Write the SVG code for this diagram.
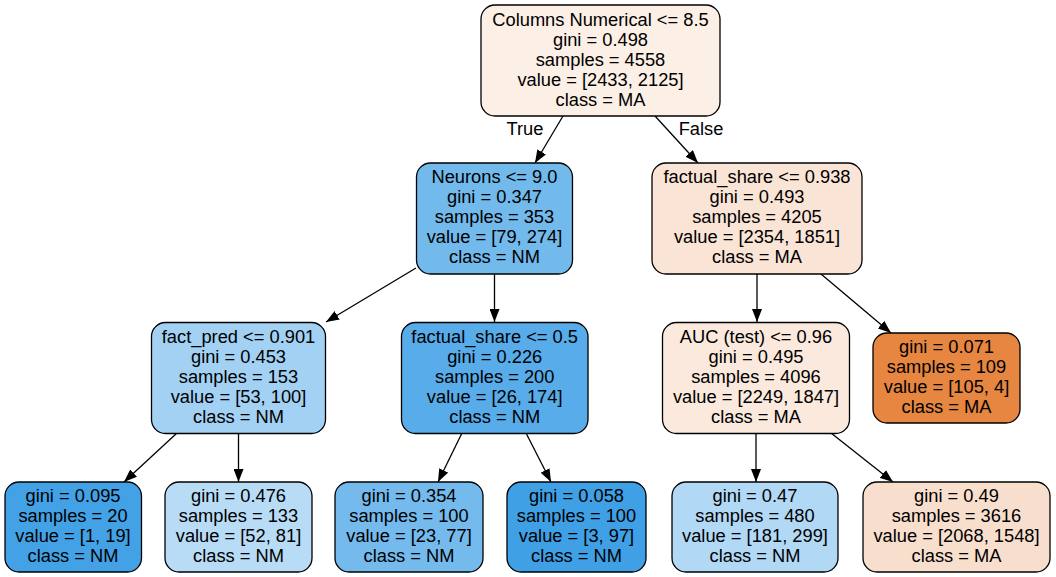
<svg xmlns="http://www.w3.org/2000/svg" width="1056" height="577" viewBox="0 0 1056 577">
<defs>
<marker id="arr" markerUnits="userSpaceOnUse" markerWidth="14" markerHeight="10" refX="13" refY="5" orient="auto">
<path d="M0,0 L13,5 L0,10 Z" fill="#000"/>
</marker>
<style>
.box{stroke:#000;stroke-width:1.3}
text{font-family:"Liberation Sans",Arial,Helvetica,sans-serif;font-size:18.3px;fill:#000;text-anchor:middle}
.edge{stroke:#000;stroke-width:1.3;fill:none;marker-end:url(#arr)}
</style>
</defs>
<rect width="1056" height="577" fill="#fff"/>
<g id="connectors">
<line class="edge" x1="563" y1="116" x2="535" y2="163"/>
<line class="edge" x1="655" y1="116" x2="698" y2="163"/>
<line class="edge" x1="416" y1="268" x2="326" y2="322"/>
<line class="edge" x1="494.5" y1="274" x2="494.5" y2="322"/>
<line class="edge" x1="757" y1="274" x2="757" y2="322"/>
<line class="edge" x1="821" y1="274" x2="891" y2="333"/>
<line class="edge" x1="177" y1="433" x2="124" y2="482"/>
<line class="edge" x1="238.5" y1="433" x2="238.5" y2="482"/>
<line class="edge" x1="462" y1="433" x2="438" y2="482"/>
<line class="edge" x1="526" y1="433" x2="551" y2="482"/>
<line class="edge" x1="756" y1="433" x2="756" y2="482"/>
<line class="edge" x1="831" y1="433" x2="893" y2="482"/>
<text x="525" y="135">True</text>
<text x="701" y="135">False</text>
</g>
<g id="n0">
<rect class="box" x="481" y="5" width="239" height="111" rx="14" fill="#fcefe6"/>
<text x="600.5" y="25.5">Columns Numerical &lt;= 8.5</text>
<text x="600.5" y="45.5">gini = 0.498</text>
<text x="600.5" y="65.5">samples = 4558</text>
<text x="600.5" y="85.5">value = [2433, 2125]</text>
<text x="600.5" y="105.5">class = MA</text>
</g>
<g id="n1">
<rect class="box" x="416.5" y="163" width="156" height="111" rx="14" fill="#72b9ec"/>
<text x="494.5" y="183">Neurons &lt;= 9.0</text>
<text x="494.5" y="203">gini = 0.347</text>
<text x="494.5" y="223">samples = 353</text>
<text x="494.5" y="243">value = [79, 274]</text>
<text x="494.5" y="263">class = NM</text>
</g>
<g id="n2">
<rect class="box" x="652" y="163" width="210" height="111" rx="14" fill="#f9e4d5"/>
<text x="757" y="183">factual_share &lt;= 0.938</text>
<text x="757" y="203">gini = 0.493</text>
<text x="757" y="223">samples = 4205</text>
<text x="757" y="243">value = [2354, 1851]</text>
<text x="757" y="263">class = MA</text>
</g>
<g id="n3">
<rect class="box" x="151.5" y="322.5" width="174" height="111" rx="14" fill="#a2d1f3"/>
<text x="238.5" y="342.5">fact_pred &lt;= 0.901</text>
<text x="238.5" y="362.5">gini = 0.453</text>
<text x="238.5" y="382.5">samples = 153</text>
<text x="238.5" y="402.5">value = [53, 100]</text>
<text x="238.5" y="422.5">class = NM</text>
</g>
<g id="n4">
<rect class="box" x="401.5" y="322.5" width="186.5" height="111" rx="14" fill="#57ace9"/>
<text x="494.7" y="342.5">factual_share &lt;= 0.5</text>
<text x="494.7" y="362.5">gini = 0.226</text>
<text x="494.7" y="382.5">samples = 200</text>
<text x="494.7" y="402.5">value = [26, 174]</text>
<text x="494.7" y="422.5">class = NM</text>
</g>
<g id="n5">
<rect class="box" x="662.5" y="322.5" width="187" height="111" rx="14" fill="#fae9dc"/>
<text x="756" y="342.5">AUC (test) &lt;= 0.96</text>
<text x="756" y="362.5">gini = 0.495</text>
<text x="756" y="382.5">samples = 4096</text>
<text x="756" y="402.5">value = [2249, 1847]</text>
<text x="756" y="422.5">class = MA</text>
</g>
<g id="n6">
<rect class="box" x="873" y="333" width="147" height="90" rx="14" fill="#e68640"/>
<text x="946.5" y="353">gini = 0.071</text>
<text x="946.5" y="373">samples = 109</text>
<text x="946.5" y="393">value = [105, 4]</text>
<text x="946.5" y="413">class = MA</text>
</g>
<g id="n7">
<rect class="box" x="5" y="482" width="136.5" height="90" rx="14" fill="#43a2e6"/>
<text x="73" y="502">gini = 0.095</text>
<text x="73" y="522">samples = 20</text>
<text x="73" y="542">value = [1, 19]</text>
<text x="73" y="562">class = NM</text>
</g>
<g id="n8">
<rect class="box" x="165" y="482" width="147" height="90" rx="14" fill="#b8dcf6"/>
<text x="238.5" y="502">gini = 0.476</text>
<text x="238.5" y="522">samples = 133</text>
<text x="238.5" y="542">value = [52, 81]</text>
<text x="238.5" y="562">class = NM</text>
</g>
<g id="n9">
<rect class="box" x="335" y="482" width="148" height="90" rx="14" fill="#74baed"/>
<text x="409" y="502">gini = 0.354</text>
<text x="409" y="522">samples = 100</text>
<text x="409" y="542">value = [23, 77]</text>
<text x="409" y="562">class = NM</text>
</g>
<g id="n10">
<rect class="box" x="507" y="482" width="139" height="90" rx="14" fill="#3fa0e6"/>
<text x="576.5" y="502">gini = 0.058</text>
<text x="576.5" y="522">samples = 100</text>
<text x="576.5" y="542">value = [3, 97]</text>
<text x="576.5" y="562">class = NM</text>
</g>
<g id="n11">
<rect class="box" x="672" y="482" width="166" height="90" rx="14" fill="#b1d8f5"/>
<text x="755" y="502">gini = 0.47</text>
<text x="755" y="522">samples = 480</text>
<text x="755" y="542">value = [181, 299]</text>
<text x="755" y="562">class = NM</text>
</g>
<g id="n12">
<rect class="box" x="863" y="482" width="187" height="90" rx="14" fill="#f8dfcd"/>
<text x="956.5" y="502">gini = 0.49</text>
<text x="956.5" y="522">samples = 3616</text>
<text x="956.5" y="542">value = [2068, 1548]</text>
<text x="956.5" y="562">class = MA</text>
</g>
</svg>
